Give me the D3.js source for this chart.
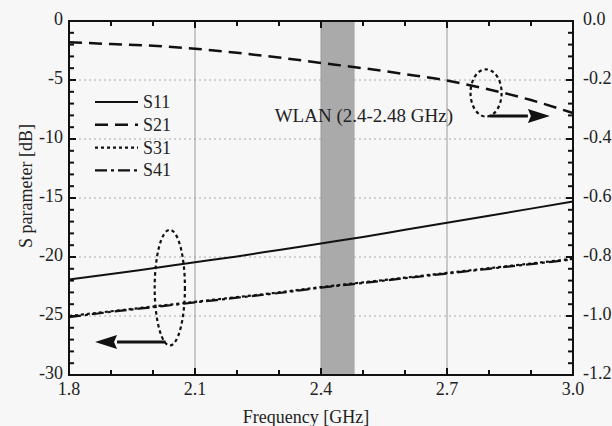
<!DOCTYPE html>
<html>
<head>
<meta charset="utf-8">
<script src="https://cdn.jsdelivr.net/npm/d3@7"></script>
<style>
  html, body { margin: 0; padding: 0; background: #f7f7f7; }
  svg { display: block; font-family: "Liberation Serif", "DejaVu Serif", serif; }
  .tick-label { font-size: 18px; fill: #222; }
  .title { font-size: 18px; fill: #222; }
</style>
</head>
<body>
<svg id="chart" width="612" height="426"></svg>
<script>
// Frequency samples (GHz)
const freqs = [1.8, 1.9, 2.0, 2.1, 2.2, 2.3, 2.4, 2.5, 2.6, 2.7, 2.8, 2.9, 3.0];
// Left axis series (dB)
const s11 = [-21.9, -21.45, -20.95, -20.45, -19.95, -19.4, -18.85, -18.3, -17.7, -17.1, -16.5, -15.9, -15.3];
const s31 = [-25.0, -24.6, -24.2, -23.8, -23.4, -23.0, -22.55, -22.15, -21.75, -21.35, -20.95, -20.55, -20.15];
const s41 = [-25.1, -24.65, -24.25, -23.85, -23.45, -23.05, -22.6, -22.2, -21.8, -21.4, -21.0, -20.6, -20.2];
// Right axis series
const s21 = [-0.072, -0.078, -0.084, -0.094, -0.108, -0.124, -0.142, -0.16, -0.18, -0.202, -0.232, -0.268, -0.312];

const xTickValues = [1.8, 2.1, 2.4, 2.7, 3.0];
const leftTickValues = [0, -5, -10, -15, -20, -25, -30];
const rightTickValues = [0.0, -0.2, -0.4, -0.6, -0.8, -1.0, -1.2];
const legendNames = ['S11', 'S21', 'S31', 'S41'];
const band = [2.4, 2.48];

const svg = d3.select('#chart');
const margin = { left: 69, right: 39, top: 21, bottom: 51 };
const W = 612, H = 426;

const x = d3.scaleLinear().domain([1.8, 3.0]).range([margin.left, W - margin.right]);
const y = d3.scaleLinear().domain([-30, 0]).range([H - margin.bottom, margin.top]);
const yR = d3.scaleLinear().domain([-1.2, 0]).range([H - margin.bottom, margin.top]);

const x0 = x.range()[0], x1 = x.range()[1];
const yTop = y.range()[1], yBot = y.range()[0];

// WLAN band
svg.append('rect')
    .attr('x', x(band[0]))
    .attr('y', yTop)
    .attr('width', x(band[1]) - x(band[0]))
    .attr('height', yBot - yTop)
    .attr('fill', '#aaaaaa');

// Horizontal dotted grid
svg.append('g').selectAll('line')
    .data(leftTickValues.slice(1, -1))
    .join('line')
    .attr('x1', x0).attr('x2', x1)
    .attr('y1', d => y(d)).attr('y2', d => y(d))
    .attr('stroke', '#aaa')
    .attr('stroke-width', 1)
    .attr('stroke-dasharray', '2,3');

// Vertical grid
svg.append('g').selectAll('line')
    .data(xTickValues.slice(1, -1))
    .join('line')
    .attr('x1', d => x(d)).attr('x2', d => x(d))
    .attr('y1', yTop).attr('y2', yBot)
    .attr('stroke', '#999')
    .attr('stroke-width', 1);

// Lines
const series = [
    { name: 'S11', values: s11, scale: y, dash: null, width: 2 },
    { name: 'S21', values: s21, scale: yR, dash: '13,7', width: 2.5 },
    { name: 'S31', values: s31, scale: y, dash: '3,3', width: 2.2 },
    { name: 'S41', values: s41, scale: y, dash: '12,4,3,4', width: 2.2 }
];

series.forEach(s => {
    const line = d3.line()
        .x((d, i) => x(freqs[i]))
        .y(d => s.scale(d))
        .curve(d3.curveMonotoneX);
    svg.append('path')
        .datum(s.values)
        .attr('d', line)
        .attr('fill', 'none')
        .attr('stroke', '#111')
        .attr('stroke-width', s.width)
        .attr('stroke-dasharray', s.dash);
});

// Legend
const legend = svg.append('g').attr('transform', 'translate(95,102)');
series.forEach((s, i) => {
    const row = legend.append('g').attr('transform', `translate(0,${i * 22.8})`);
    row.append('line')
        .attr('x1', 0).attr('x2', 43)
        .attr('y1', 0).attr('y2', 0)
        .attr('stroke', '#111')
        .attr('stroke-width', s.width)
        .attr('stroke-dasharray', s.dash);
    row.append('text')
        .attr('class', 'title')
        .attr('x', 48).attr('y', 6)
        .text(legendNames[i]);
});

// Band label
svg.append('text')
    .attr('class', 'title')
    .style('font-size', '19px')
    .attr('x', x(2.7) + 6)
    .attr('y', y(-8.6))
    .attr('text-anchor', 'end')
    .text('WLAN (2.4-2.48 GHz)');

// Ellipses marking the series groups
function ellipse(cx, cy, rxGHz, ryDb) {
    svg.append('ellipse')
        .attr('cx', x(cx)).attr('cy', y(cy))
        .attr('rx', x(cx + rxGHz) - x(cx))
        .attr('ry', y(cy - ryDb) - y(cy))
        .attr('fill', 'none')
        .attr('stroke', '#111')
        .attr('stroke-width', 2.2)
        .attr('stroke-dasharray', '3.5,3');
}
ellipse(2.04, -22.6, 0.036, 4.9);
ellipse(2.793, -6.1, 0.037, 2.0);

// Arrows
function arrow(fromF, toF, db) {
    const ay = y(db);
    const dir = Math.sign(toF - fromF);
    const tip = x(toF);
    const base = tip - dir * 22;
    svg.append('line')
        .attr('x1', x(fromF)).attr('x2', base)
        .attr('y1', ay).attr('y2', ay)
        .attr('stroke', '#111')
        .attr('stroke-width', 3);
    svg.append('path')
        .attr('d', `M${tip},${ay} L${base},${ay - 7} L${base + dir * 3},${ay} L${base},${ay + 7} Z`)
        .attr('fill', '#111');
}
arrow(2.03, 1.862, -27.2);
arrow(2.802, 2.945, -8.05);

// Frame
svg.append('rect')
    .attr('x', x0).attr('y', yTop)
    .attr('width', x1 - x0).attr('height', yBot - yTop)
    .attr('fill', 'none')
    .attr('stroke', '#111')
    .attr('stroke-width', 2);

// Ticks (inward)
const xMinor = d3.range(18, 31).map(v => v / 10);
const yMinor = d3.range(-30, 1);
const ticks = svg.append('g').attr('stroke', '#111').attr('stroke-width', 2);
xMinor.forEach(v => {
    const major = xTickValues.some(t => Math.abs(t - v) < 1e-6);
    const len = major ? 7 : 5;
    ticks.append('line').attr('x1', x(v)).attr('x2', x(v)).attr('y1', yBot).attr('y2', yBot - len);
    ticks.append('line').attr('x1', x(v)).attr('x2', x(v)).attr('y1', yTop).attr('y2', yTop + len);
});
yMinor.forEach(v => {
    const major = v % 5 === 0;
    const len = major ? 7 : 5;
    ticks.append('line').attr('x1', x0).attr('x2', x0 + len).attr('y1', y(v)).attr('y2', y(v));
    ticks.append('line').attr('x1', x1).attr('x2', x1 - len).attr('y1', y(v)).attr('y2', y(v));
});

// Tick labels
svg.append('g').selectAll('text')
    .data(xTickValues)
    .join('text')
    .attr('class', 'tick-label')
    .attr('x', d => x(d))
    .attr('y', yBot + 20)
    .attr('text-anchor', 'middle')
    .text(d => d3.format('.1f')(d));

svg.append('g').selectAll('text')
    .data(leftTickValues)
    .join('text')
    .attr('class', 'tick-label')
    .attr('x', x0 - 6)
    .attr('y', d => y(d) + 4)
    .attr('text-anchor', 'end')
    .text(d => d);

svg.append('g').selectAll('text')
    .data(rightTickValues)
    .join('text')
    .attr('class', 'tick-label')
    .attr('x', x1 + 10)
    .attr('y', d => yR(d) + 4)
    .text(d => d3.format('.1f')(d).replace('−', '-'));

// Axis titles
svg.append('text')
    .attr('class', 'title')
    .attr('x', 306)
    .attr('y', 423)
    .attr('text-anchor', 'middle')
    .text('Frequency [GHz]');

svg.append('text')
    .attr('class', 'title')
    .attr('transform', `translate(32,186) rotate(-90)`)
    .attr('text-anchor', 'middle')
    .text('S parameter [dB]');
</script>
</body>
</html>
